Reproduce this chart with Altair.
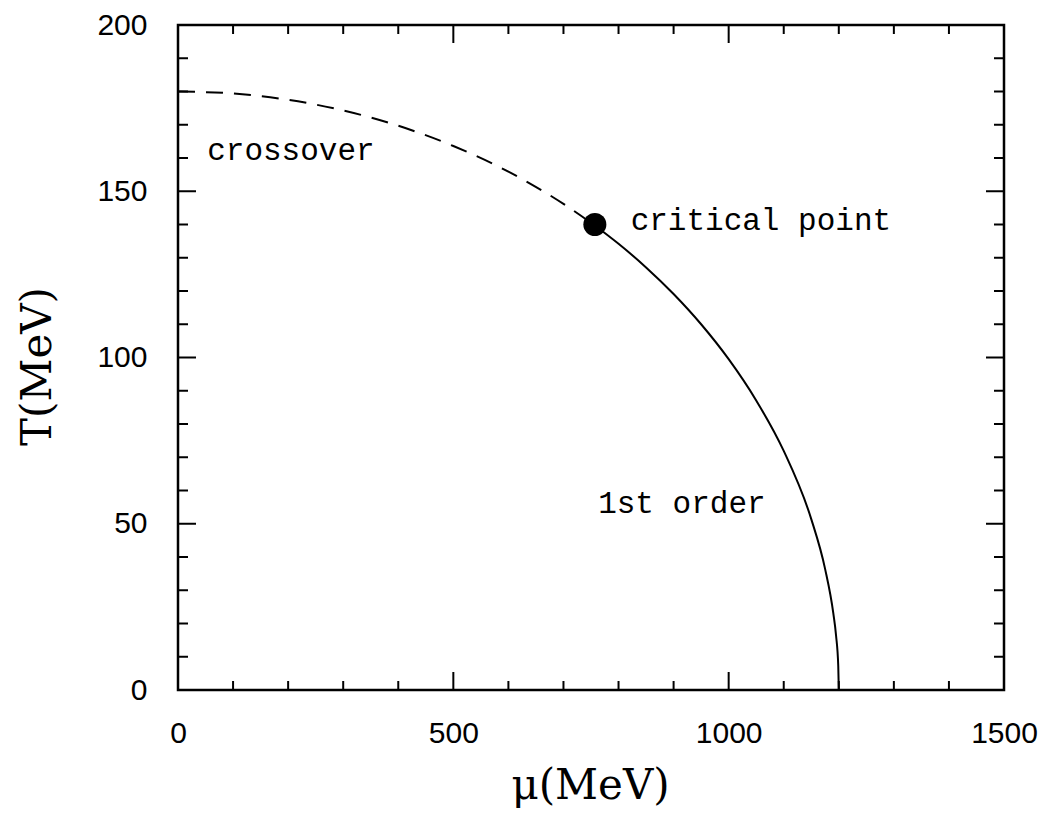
import altair as alt
import pandas as pd

# Phase boundary
cross_mu = [0, 100, 200, 300, 400, 500, 600, 700, 757]
cross_T = [180, 179.4, 177.5, 174.3, 169.7, 163.6, 155.9, 146.2, 139.7]
first_mu = [757, 800, 850, 900, 950, 1000, 1050, 1100, 1150, 1175, 1190, 1195, 1199, 1200]
first_T = [139.7, 134.2, 127.1, 119.1, 110.0, 99.5, 87.1, 71.9, 51.4, 36.5, 23.1, 16.4, 7.3, 0]
crit_mu = [757]
crit_T = [140]

labels = ["crossover", "critical point", "1st order"]
label_mu = [53, 822, 763]
label_T = [162, 141, 56]

x_major = [0, 500, 1000, 1500]
x_minor = [100, 200, 300, 400, 600, 700, 800, 900, 1100, 1200, 1300, 1400]
y_major = [0, 50, 100, 150, 200]
y_minor = [v for v in range(0, 201, 10) if v % 50 != 0]

W, H = 826, 665
XS = alt.Scale(domain=[0, 1500], nice=False, zero=False)
YS = alt.Scale(domain=[0, 200], nice=False, zero=False)

cross = pd.DataFrame({"mu": cross_mu, "T": cross_T})
first = pd.DataFrame({"mu": first_mu, "T": first_T})
crit = pd.DataFrame({"mu": crit_mu, "T": crit_T})
lab = pd.DataFrame({"mu": label_mu, "T": label_T, "label": labels})

xaxis = alt.Axis(values=x_major, format="d", grid=False, ticks=False, domain=False,
                 labelFont="Liberation Sans", labelFontSize=30, labelColor="black",
                 labelPadding=28, labelFlush=False,
                 title="μ(MeV)", titleFont="DejaVu Serif", titleFontSize=42,
                 titleFontWeight="normal", titleColor="black",
                 titleX=412, titleY=108, titleBaseline="alphabetic", titleAlign="center")
yaxis = alt.Axis(values=y_major, format="d", grid=False, ticks=False, domain=False,
                 labelFont="Liberation Sans", labelFontSize=30, labelColor="black",
                 labelPadding=31, labelFlush=False,
                 title="T(MeV)", titleFont="DejaVu Serif", titleFontSize=42,
                 titleFontWeight="normal", titleColor="black",
                 titleX=-141, titleY=341, titleBaseline="middle", titleAlign="center", titleAngle=-90)

X = alt.X("mu:Q", scale=XS, axis=xaxis)
Y = alt.Y("T:Q", scale=YS, axis=yaxis)

dashed = alt.Chart(cross).mark_line(color="black", strokeWidth=2, strokeDash=[17, 11],
                                    interpolate="monotone").encode(x=X, y=Y, order="mu:Q")
solid = alt.Chart(first).mark_line(color="black", strokeWidth=2,
                                   interpolate="monotone").encode(x=X, y=Y, order="mu:Q")
point = alt.Chart(crit).mark_circle(color="black", opacity=1, size=530).encode(x=X, y=Y)
text = alt.Chart(lab).mark_text(font="Liberation Mono", fontSize=31, align="left",
                                baseline="middle", color="black").encode(x=X, y=Y, text="label:N")


def xticks(vals, length):
    d = pd.DataFrame({"mu": vals})
    base = alt.Chart(d).mark_rule(color="black", strokeWidth=2)
    bottom = base.encode(x=X, y=alt.value(H), y2=alt.value(H - length))
    top = base.encode(x=X, y=alt.value(0), y2=alt.value(length))
    return [bottom, top]


def yticks(vals, length):
    d = pd.DataFrame({"T": vals})
    base = alt.Chart(d).mark_rule(color="black", strokeWidth=2)
    left = base.encode(y=Y, x=alt.value(0), x2=alt.value(length))
    right = base.encode(y=Y, x=alt.value(W), x2=alt.value(W - length))
    return [left, right]


layers = [dashed, solid, point, text] + xticks(x_major, 18) + xticks(x_minor, 9) \
    + yticks(y_major, 18) + yticks(y_minor, 10)

chart = alt.layer(*layers).properties(
    width=W, height=H,
    background="white",
    autosize=alt.AutoSizeParams(type="none"),
    padding={"left": 170, "top": 17, "right": 36, "bottom": 118},
).configure_view(stroke="black", strokeWidth=2.5)

chart.save("out.html", embed_options={"renderer": "svg", "actions": False})
